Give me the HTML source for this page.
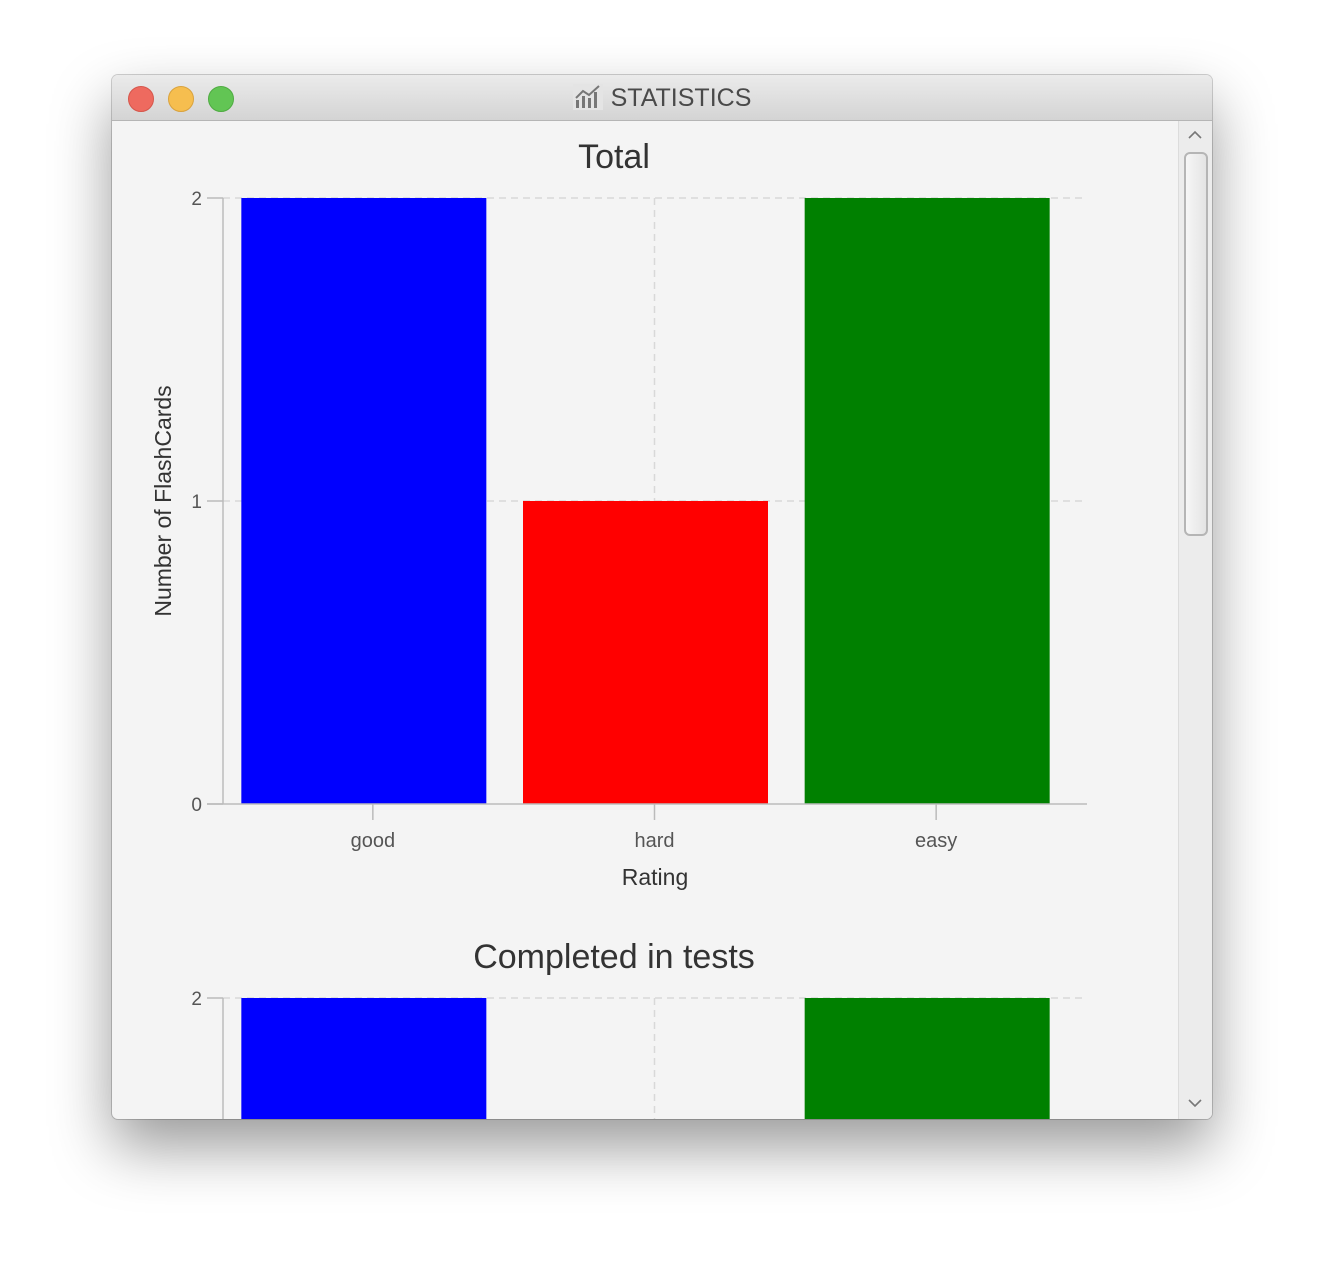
<!DOCTYPE html>
<html><head><meta charset="utf-8">
<style>
html,body{margin:0;width:1324px;height:1268px;overflow:hidden;}
body{background:#fff;position:relative;font-family:"Liberation Sans",sans-serif;}
#win{position:absolute;left:112px;top:75px;width:1100px;height:1044px;border-radius:6px;box-shadow:0 28px 60px rgba(0,0,0,.4),0 0 0 1px rgba(0,0,0,.18);background:#f4f4f4;overflow:hidden;}
#titlebar{position:absolute;left:0;top:0;width:1100px;height:45px;background:linear-gradient(#ebebeb,#d4d4d4);border-bottom:1px solid #b5b5b5;}
.light{position:absolute;top:11px;width:24px;height:24px;border-radius:50%;}
#title{position:absolute;left:0;width:100%;top:9px;text-align:center;font-size:25px;color:#4a4a4a;}
#content{position:absolute;left:0;top:46px;width:1100px;height:998px;overflow:hidden;}
#scroll{position:absolute;left:1066px;top:0;width:34px;height:998px;background:#ececec;border-left:1px solid #dcdcdc;}
#thumb{position:absolute;left:5px;top:31px;width:20px;height:380px;border:2px solid #b5b5b5;border-radius:6px;background:linear-gradient(90deg,#f6f6f6,#e4e4e4);}
</style></head><body>
<div id="win">
 <div id="titlebar">
  <div class="light" style="left:16px;background:#ee6a5f;border:1px solid #d5564b"></div>
  <div class="light" style="left:56px;background:#f6be4f;border:1px solid #d9a23d"></div>
  <div class="light" style="left:96px;background:#62c554;border:1px solid #4fab42"></div>
  <div id="title"><svg width="30" height="26" viewBox="0 0 30 26" style="vertical-align:-4px;margin-right:8px"><rect width="30" height="26" fill="#e4e4e4"/><rect x="3" y="16" width="3" height="8" fill="#777"/><rect x="9" y="12" width="3" height="12" fill="#777"/><rect x="15" y="14" width="3" height="10" fill="#777"/><rect x="21" y="8" width="3" height="16" fill="#777"/><polyline points="3,14 10,7 16,11 26,2" stroke="#777" stroke-width="2" fill="none"/></svg>STATISTICS</div>
 </div>
 <div id="content">
  <svg id="charts" width="1066" height="998" style="position:absolute;left:0;top:0"></svg>
  <div id="scroll">
   <svg width="34" height="20" style="position:absolute;top:4px;left:0"><polyline points="10,13 16,7 22,13" stroke="#777" stroke-width="1.6" fill="none"/></svg>
   <div id="thumb"></div>
   <svg width="34" height="20" style="position:absolute;top:972px;left:0"><polyline points="10,7 16,13 22,7" stroke="#777" stroke-width="1.6" fill="none"/></svg>
  </div>
 </div>
</div>
<script>
const categories=["good","hard","easy"];
const totalValues=[2,1,2];
const testValues=[2,1,2];
const barColors=["#0000ff","#ff0000","#008000"];
const yTicks=[0,1,2];
const NS="http://www.w3.org/2000/svg";
const svg=document.getElementById('charts');
function mk(tag,attrs,parent){const e=document.createElementNS(NS,tag);for(const k in attrs)e.setAttribute(k,attrs[k]);(parent||svg).appendChild(e);return e;}
function drawChart(title,values,top,key){
 const g=mk('g',{});
 
 
 const x0=111,x1=975,yTop=top+77,yBot=top+683,yMax=2;
 const cStart=120,cEnd=965;
 const y=v=>yBot-(v/yMax)*(yBot-yTop);
 const band=(cEnd-cStart)/categories.length;
 const xc=i=>cStart+band*(i+0.5);
 const t=mk('text',{x:502,y:top+47,'text-anchor':'middle','font-size':34,fill:'#333'},g);
 t.textContent=title;
 
 
 yTicks.forEach(v=>{
  if(v>0){const gl=mk('line',{x1:x0,x2:x1,y1:y(v),y2:y(v),stroke:'#d8d8d8','stroke-width':1.5,'stroke-dasharray':'7,5'},g);
   }
  mk('line',{x1:95,x2:x0,y1:y(v),y2:y(v),stroke:'#bbb','stroke-width':1.5},g);
  const tl=mk('text',{x:90,y:y(v)+7,'text-anchor':'end','font-size':19,fill:'#555'},g);
  tl.textContent=v;
  
  
 });
 categories.forEach((c,i)=>{mk('line',{x1:xc(i),x2:xc(i),y1:yTop,y2:yBot,stroke:'#d8d8d8','stroke-width':1.5,'stroke-dasharray':'7,5'},g);});
 values.forEach((v,i)=>{
  const b=mk('rect',{x:xc(i)-131.5,y:y(v),width:245,height:yBot-y(v),fill:barColors[i]},g);
  
  
 });
 mk('line',{x1:x0,x2:x0,y1:yTop,y2:yBot,stroke:'#bbb','stroke-width':1.5},g);
 mk('line',{x1:95,x2:x1,y1:yBot,y2:yBot,stroke:'#bbb','stroke-width':1.5},g);
 categories.forEach((c,i)=>{
  mk('line',{x1:xc(i),x2:xc(i),y1:yBot,y2:yBot+16,stroke:'#bbb','stroke-width':1.5},g);
  const l=mk('text',{x:xc(i),y:yBot+43,'text-anchor':'middle','font-size':20,fill:'#555'},g);
  l.textContent=c;
  
  
 });
 const xt=mk('text',{x:543,y:yBot+81,'text-anchor':'middle','font-size':23,fill:'#333'},g);
 xt.textContent='Rating';
 
 
 const ytl=mk('text',{x:0,y:0,'text-anchor':'middle','font-size':23,fill:'#333',transform:`translate(59,${(yTop+yBot)/2}) rotate(-90)`},g);
 ytl.textContent='Number of FlashCards';
 
 
}
svg.setAttribute('font-family','Liberation Sans, sans-serif');
drawChart('Total',totalValues,0,'total');
drawChart('Completed in tests',testValues,800,'completed');
</script>
</body></html>
